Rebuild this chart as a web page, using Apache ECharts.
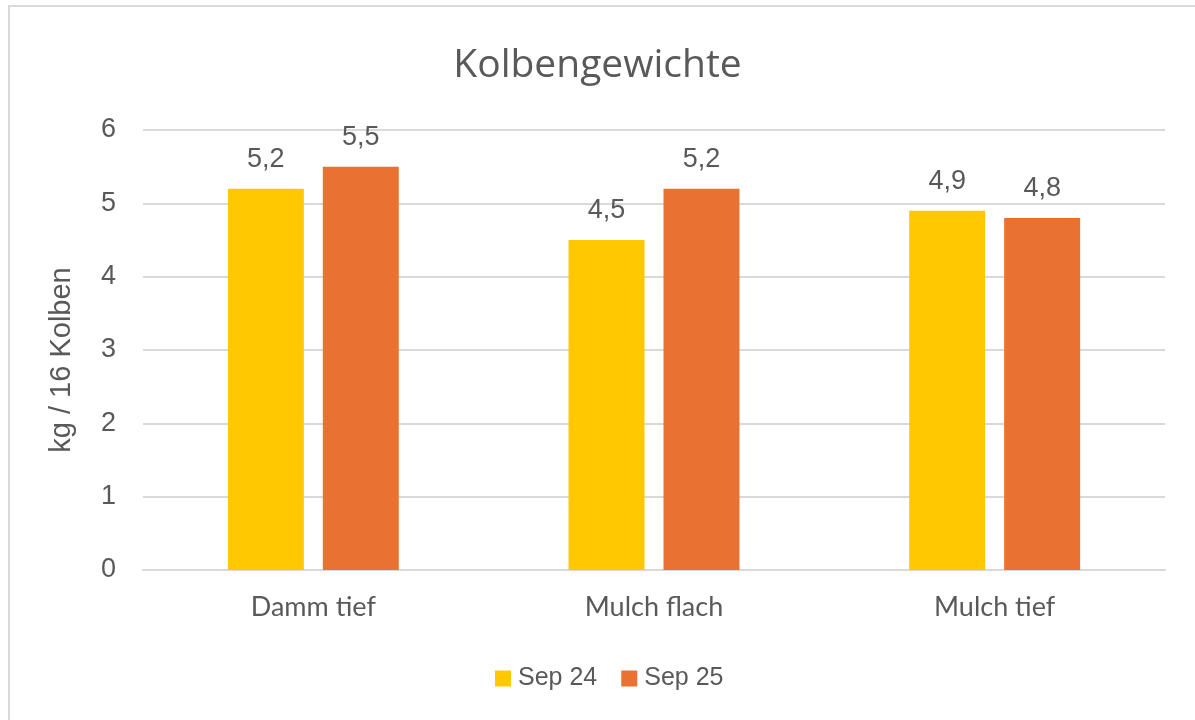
<!DOCTYPE html>
<html>
<head>
<meta charset="utf-8">
<script src="https://cdn.jsdelivr.net/npm/echarts@6/dist/echarts.min.js"></script>
<style>
  html, body { margin: 0; padding: 0; background: #fff; }
  #chart { width: 1195px; height: 720px; }
</style>
</head>
<body>
<div id="chart"></div>
<script>
  var categories = ["Damm tief", "Mulch flach", "Mulch tief"];
  var seriesNames = ["Sep 24", "Sep 25"];
  var sep24 = [5.2, 4.5, 4.9];
  var sep25 = [5.5, 5.2, 4.8];
  var colors = ["#FFC800", "#E97132"];

  var myChart = echarts.init(document.getElementById("chart"));
  var font = "Liberation Sans";

  var labelCfg = {
    show: true,
    position: "top",
    distance: 16,
    color: "#595959",
    fontSize: 27,
    fontFamily: font,
    formatter: function (p) {
      return String(p.value.toFixed(1)).replace(".", ",");
    },
  };

  myChart.setOption({
    animation: false,
    backgroundColor: "#fff",
    color: colors,
    title: {
      text: "Kolbengewichte",
      left: "center",
      top: 41,
      textStyle: {
        color: "#595959",
        fontSize: 39,
        fontWeight: "normal",
        fontFamily: "Open Sans",
      },
    },
    graphic: [
      {
        type: "polyline",
        shape: { points: [[9, 720], [9, 6], [1195, 6]] },
        style: { stroke: "#d9d9d9", lineWidth: 2, fill: null },
      },
    ],
    legend: {
      bottom: 24,
      left: 490,
      icon: "rect",
      itemWidth: 16,
      itemHeight: 16,
      itemGap: 24,
      textStyle: { color: "#595959", fontSize: 25, fontFamily: font, padding: [0, 0, 0, 2] },
      data: seriesNames,
    },
    grid: { left: 143, right: 30, top: 130, bottom: 150 },
    xAxis: {
      type: "category",
      data: categories,
      axisTick: { show: false },
      axisLine: { lineStyle: { color: "#d9d9d9", width: 2 } },
      axisLabel: { color: "#595959", fontSize: 27, fontFamily: "Lato", margin: 24 },
    },
    yAxis: {
      type: "value",
      min: 0,
      max: 6,
      interval: 1,
      name: "kg / 16 Kolben",
      nameLocation: "middle",
      nameGap: 67,
      nameTextStyle: {
        color: "#595959",
        fontSize: 29,
        fontFamily: font,
        padding: [0, 20, 0, 0],
      },
      axisLine: { show: false },
      axisTick: { show: false },
      axisLabel: { color: "#595959", fontSize: 27, fontFamily: font, margin: 27 },
      splitLine: { lineStyle: { color: "#d9d9d9", width: 2 } },
    },
    series: [
      {
        name: seriesNames[0],
        type: "bar",
        data: sep24,
        barWidth: "22.3%",
        barGap: "25%",
        label: labelCfg,
      },
      {
        name: seriesNames[1],
        type: "bar",
        data: sep25,
        barWidth: "22.3%",
        label: labelCfg,
      },
    ],
  });
</script>
</body>
</html>
